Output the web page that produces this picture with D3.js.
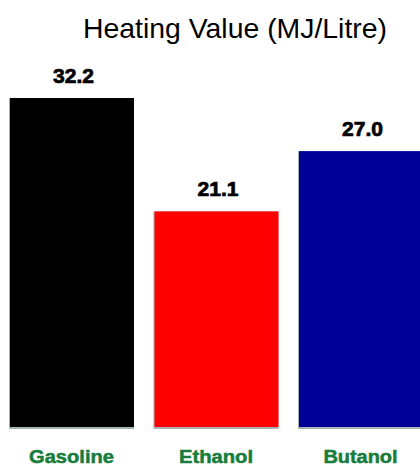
<!DOCTYPE html>
<html>
<head>
<meta charset="utf-8">
<script src="https://cdn.jsdelivr.net/npm/d3@7/dist/d3.min.js"></script>
<style>
  html, body { margin: 0; padding: 0; background: #fff; }
  svg { display: block; }
</style>
</head>
<body>
<svg id="chart" width="420" height="468"></svg>
<script>
// Heating value of fuels, MJ per litre
const fuels = ["Gasoline", "Ethanol", "Butanol"];
const heatingValues = [32.2, 21.1, 27.0];
const barColors = ["#000000", "#ff0000", "#000099"];
const valueLabels = ["32.2", "21.1", "27.0"];
const titleText = "Heating Value (MJ/Litre)";

const svg = d3.select("#chart");

const x = d3.scaleBand()
  .domain(fuels)
  .range([9, 423])
  .paddingInner(0.135)
  .paddingOuter(0);

const y = d3.scaleLinear()
  .domain([0, 32.2])
  .range([427, 98]);

// Title
svg.append("text")
  .attr("x", 83)
  .attr("y", 38)
  .attr("font-family", "Liberation Sans, Arial, sans-serif")
  .attr("font-size", 28)
  .attr("textLength", 304)
  .attr("lengthAdjust", "spacingAndGlyphs")
  .attr("fill", "#000")
  .text(titleText);

const bars = svg.append("g").selectAll("g")
  .data(fuels)
  .join("g");

// Soft grey shadow under each bar
bars.append("rect")
  .attr("x", d => x(d))
  .attr("y", (d, i) => y(heatingValues[i]))
  .attr("width", x.bandwidth())
  .attr("height", (d, i) => y(0) - y(heatingValues[i]) + 2)
  .attr("fill", "#a9b2b5");

bars.append("rect")
  .attr("x", d => x(d) + 1)
  .attr("y", (d, i) => y(heatingValues[i]))
  .attr("width", x.bandwidth() - 1)
  .attr("height", (d, i) => y(0) - y(heatingValues[i]))
  .attr("fill", (d, i) => barColors[i]);

// Value labels above bars
bars.append("text")
  .attr("x", d => x(d) + x.bandwidth() / 2 + 2)
  .attr("y", (d, i) => y(heatingValues[i]) - 15)
  .attr("text-anchor", "middle")
  .attr("font-family", "Liberation Sans, Arial, sans-serif")
  .attr("font-weight", "bold")
  .attr("font-size", 20)
  .attr("textLength", 41)
  .attr("lengthAdjust", "spacingAndGlyphs")
  .attr("fill", "#000")
  .attr("stroke", "#000")
  .attr("stroke-width", 0.7)
  .text((d, i) => valueLabels[i]);

// Category labels
bars.append("text")
  .attr("x", d => x(d) + x.bandwidth() / 2)
  .attr("y", 463)
  .attr("text-anchor", "middle")
  .attr("font-family", "Liberation Sans, Arial, sans-serif")
  .attr("font-weight", "bold")
  .attr("font-size", 18)
  .attr("textLength", d => d.length * 10.6)
  .attr("lengthAdjust", "spacingAndGlyphs")
  .attr("fill", "#177d3b")
  .attr("stroke", "#177d3b")
  .attr("stroke-width", 0.5)
  .text(d => d);
</script>
</body>
</html>
